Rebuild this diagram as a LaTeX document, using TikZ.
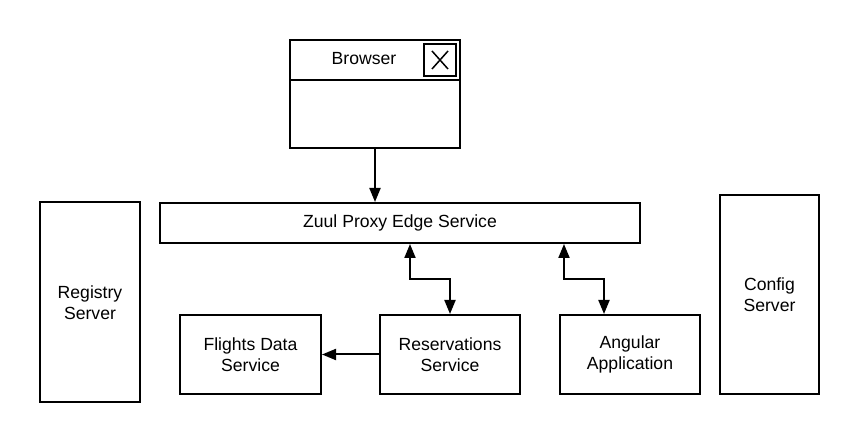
\documentclass[tikz,border=0pt]{standalone}
\usepackage{fontspec}
\setmainfont{Liberation Sans}
\usetikzlibrary{arrows.meta}
\begin{document}
\begin{tikzpicture}[x=1pt,y=-1pt,
  box/.style={draw,line width=2pt,inner sep=0pt,align=center,font=\fontsize{17.6}{20.5}\selectfont},
  lbl/.style={inner sep=0pt,align=center,font=\fontsize{17.6}{20.5}\selectfont},
  arr/.style={line width=2pt,-{Triangle[length=14pt,width=11pt]}},
  darr/.style={line width=2pt,{Triangle[length=14pt,width=11pt]}-{Triangle[length=14pt,width=11pt]}}]
\useasboundingbox (0,0) rectangle (860,443);
% Browser window
\node[box,minimum width=170pt,minimum height=108pt] (browser) at (375,94) {};
\draw[line width=2pt] (290,80.5) -- (460,80.5);
\node[box,minimum width=32pt,minimum height=32pt] (close) at (440,60) {};
\draw[line width=1.5pt] (432,51) -- (448,69) (432,69) -- (448,51);
\node[lbl] (browsertxt) at (364,59) {Browser};
% Zuul
\node[box,minimum width=480pt,minimum height=40pt] (zuul) at (400,223) {Zuul Proxy Edge Service};
% Side servers
\node[box,minimum width=100pt,minimum height=200pt] (registry) at (90,302.5) {Registry\\Server};
\node[box,minimum width=99pt,minimum height=199pt] (config) at (769.5,294.5) {Config\\Server};
% Services
\node[box,minimum width=141pt,minimum height=79pt] (flights) at (250.5,354.5) {Flights Data\\Service};
\node[box,minimum width=140pt,minimum height=79pt] (res) at (450,354.5) {Reservations\\Service};
\node[box,minimum width=140pt,minimum height=79pt] (angular) at (630,354.5) {Angular\\Application};
% Connectors
\draw[arr] (browser.south -| 375,0) -- (zuul.north -| 375,0);
\draw[darr] (zuul.south -| 410,0) |- (450,279) -- (res.north);
\draw[darr] (zuul.south -| 564,0) |- (604,279) -- (angular.north -| 604,0);
\draw[arr] (res.west) -- (flights.east);
\end{tikzpicture}
\end{document}
